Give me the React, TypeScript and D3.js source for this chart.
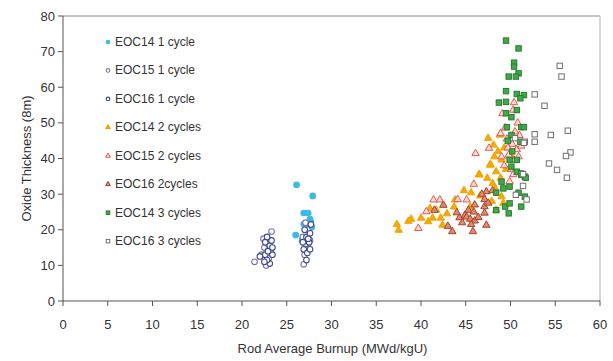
import React from 'react';
import * as d3 from 'd3';

// series data: [burnup, oxide thickness]
const eoc14c1: [number, number][] = [
  [26.1, 32.6], [27.9, 29.5], [26.9, 24.7], [27.4, 24.7], [27.7, 22.2], [26.9, 21.6],
  [27.8, 20.8], [26.0, 18.5], [27.5, 19.9], [26.7, 17.0], [27.6, 23.0], [27.2, 21.0],
];
const eoc15c1: [number, number][] = [
  [21.4, 11.0], [22.2, 13.0], [22.7, 10.0], [23.0, 12.0], [22.5, 15.0], [23.2, 14.0],
  [22.4, 17.5], [23.3, 19.5], [22.9, 16.0], [26.9, 10.3], [27.0, 13.0], [27.4, 15.0],
  [26.8, 18.0], [27.3, 20.0], [27.6, 17.0], [27.1, 22.0],
];
const eoc16c1: [number, number][] = [
  [22.0, 12.5], [22.6, 13.0], [23.1, 10.5], [22.8, 11.5], [23.4, 13.0], [22.9, 14.0],
  [23.1, 15.5], [22.6, 16.5], [23.3, 17.0], [22.8, 18.0], [23.4, 15.0], [22.5, 11.0],
  [27.2, 11.5], [26.9, 14.5], [27.3, 13.5], [27.6, 14.5], [27.1, 16.0], [27.5, 16.5],
  [26.8, 16.5], [27.2, 18.0], [27.6, 19.0], [27.0, 20.0], [27.4, 17.5], [27.7, 21.5],
];
const eoc14c2: [number, number][] = [
  [37.5, 19.9], [37.3, 21.5], [38.6, 22.4], [38.9, 23.0], [40.0, 23.3], [40.8, 22.3],
  [41.3, 23.3], [42.2, 23.3], [42.4, 21.3], [41.7, 25.5], [41.0, 26.0], [43.8, 28.4],
  [43.7, 26.4], [45.5, 26.4], [45.6, 30.4], [46.5, 35.6], [47.4, 34.5], [47.7, 38.2],
  [48.4, 25.5], [49.0, 29.3], [47.5, 45.7], [48.8, 46.6], [46.5, 35.4], [47.8, 38.2],
  [48.4, 36.3], [49.0, 39.6], [48.2, 40.5], [48.6, 42.0], [49.3, 43.0], [48.0, 33.0],
  [48.9, 34.5], [49.5, 37.0], [48.3, 31.5], [49.2, 27.5], [47.9, 28.0], [44.8, 31.0],
  [42.9, 24.5], [46.6, 29.5], [50.0, 41.0], [48.1, 43.8],
];
const eoc15c2: [number, number][] = [
  [46.1, 41.4], [47.6, 42.9], [49.1, 52.6], [50.4, 55.7], [50.3, 53.6], [50.8, 50.0],
  [49.4, 48.6], [41.4, 28.4], [42.1, 28.4], [40.6, 25.1], [39.7, 20.4], [44.1, 28.5],
  [45.1, 28.4], [45.9, 32.8], [49.9, 33.5], [49.6, 45.5], [50.2, 44.0], [50.7, 42.5],
  [49.8, 41.0], [50.4, 39.5], [49.3, 38.0], [50.1, 37.0], [50.9, 40.5], [49.7, 43.0],
  [51.0, 46.5], [48.9, 47.0], [50.5, 47.5], [49.0, 40.5], [51.2, 43.5], [50.3, 35.5],
];
const eoc16c2: [number, number][] = [
  [43.5, 19.5], [45.8, 19.5], [44.3, 23.4], [44.9, 24.1], [45.1, 23.6], [45.5, 23.0],
  [46.0, 22.5], [47.3, 21.3], [47.1, 24.7], [47.1, 26.5], [47.1, 28.5], [47.3, 30.7],
  [42.5, 26.9], [41.5, 25.5], [44.6, 22.0], [45.3, 25.5], [45.9, 25.0], [44.0, 24.8],
  [46.4, 23.5], [45.6, 21.5], [47.5, 27.5], [46.8, 30.0], [48.0, 31.0], [46.0, 27.0],
  [43.0, 21.0],
];
const eoc14c3: [number, number][] = [
  [49.5, 73.1], [50.9, 70.9], [50.4, 66.9], [50.4, 65.8], [50.9, 63.9], [49.8, 63.0],
  [50.6, 63.0], [49.5, 58.9], [50.7, 58.1], [51.5, 57.8], [51.1, 56.9], [48.7, 55.7],
  [49.5, 55.9], [49.5, 52.7], [50.7, 53.6], [50.1, 51.6], [49.6, 48.8], [51.2, 48.8],
  [51.5, 48.8], [50.1, 46.6], [51.1, 44.7], [49.9, 39.6], [50.7, 39.6], [50.1, 37.7],
  [50.7, 36.3], [51.2, 35.4], [51.6, 34.9], [51.2, 35.8], [51.7, 34.6], [49.0, 33.5],
  [49.2, 31.6], [49.9, 32.1], [48.4, 30.4], [50.9, 30.4], [51.6, 29.3], [49.4, 26.5],
  [49.9, 27.4], [49.8, 24.6], [51.2, 26.5], [48.4, 25.5], [50.2, 42.0], [49.7, 45.0],
];
const eoc16c3: [number, number][] = [
  [55.5, 66.0], [55.7, 63.0], [52.7, 58.0], [53.8, 54.8], [52.7, 46.8], [54.5, 46.6],
  [56.4, 47.8], [52.7, 44.7], [51.6, 44.7], [56.7, 41.7], [56.2, 40.7], [54.3, 38.6],
  [55.2, 36.8], [56.3, 34.6], [51.4, 35.6], [51.4, 32.3], [50.5, 45.7], [51.8, 28.5],
  [50.6, 29.8], [51.5, 44.4],
];

const xTicks = [0, 5, 10, 15, 20, 25, 30, 35, 40, 45, 50, 55, 60];
const yTicks = [0, 10, 20, 30, 40, 50, 60, 70, 80];

type Shape = 'circle' | 'triangle' | 'square';
const series: { name: string; data: [number, number][]; shape: Shape; fill: string; stroke: string }[] = [
  { name: 'EOC14 1 cycle', data: eoc14c1, shape: 'circle', fill: '#3cb9e4', stroke: '#3cb9e4' },
  { name: 'EOC15 1 cycle', data: eoc15c1, shape: 'circle', fill: '#ffffff', stroke: '#7a74b6' },
  { name: 'EOC16 1 cycle', data: eoc16c1, shape: 'circle', fill: '#ffffff', stroke: '#3e4a8c' },
  { name: 'EOC14 2 cycles', data: eoc14c2, shape: 'triangle', fill: '#f2aa0a', stroke: '#f0a400' },
  { name: 'EOC15 2 cycles', data: eoc15c2, shape: 'triangle', fill: '#fbe0d8', stroke: '#e8554c' },
  { name: 'EOC16 2cycles', data: eoc16c2, shape: 'triangle', fill: '#df8a6c', stroke: '#a4432c' },
  { name: 'EOC14 3 cycles', data: eoc14c3, shape: 'square', fill: '#3fab47', stroke: '#2b7a33' },
  { name: 'EOC16 3 cycles', data: eoc16c3, shape: 'square', fill: '#ffffff', stroke: '#6f6f6f' },
];

const W = 613;
const H = 361;
const margin = { left: 63, right: 13, top: 16, bottom: 60 };

function Marker({ shape, x, y, fill, stroke, s = 1 }: { shape: Shape; x: number; y: number; fill: string; stroke: string; s?: number }) {
  if (shape === 'circle') {
    return <circle cx={x} cy={y} r={2.8 * s} fill={fill} stroke={stroke} strokeWidth={1.1} />;
  }
  if (shape === 'square') {
    const h = 2.7 * s;
    return <rect x={x - h} y={y - h} width={2 * h} height={2 * h} fill={fill} stroke={stroke} strokeWidth={1} />;
  }
  const path = d3.symbol(d3.symbolTriangle, 24 * s * s)() as string;
  return <path d={path} transform={`translate(${x},${y})`} fill={fill} stroke={stroke} strokeWidth={1} />;
}

export default function App() {
  const x = d3.scaleLinear().domain([0, 60]).range([margin.left, W - margin.right]);
  const y = d3.scaleLinear().domain([0, 80]).range([H - margin.bottom, margin.top]);
  const font = 'Liberation Sans, Arial, sans-serif';
  const x0 = x(0), x1 = x(60), y0 = y(0), y1 = y(80);

  return (
    <svg width={W} height={H} style={{ position: 'absolute', left: 0, top: 0, background: '#fff' }} fontFamily={font}>
      {/* frame */}
      <line x1={x0} x2={x1} y1={y1} y2={y1} stroke="#8a8a8a" strokeWidth={1} />
      <line x1={x1} x2={x1} y1={y1} y2={y0} stroke="#c8c8c8" strokeWidth={1.5} />
      <line x1={x0} x2={x0} y1={y1} y2={y0} stroke="#555" strokeWidth={1} />
      <line x1={x0} x2={x1} y1={y0} y2={y0} stroke="#555" strokeWidth={1} />

      {yTicks.map(t => (
        <g key={'y' + t}>
          <line x1={x0 - 5} x2={x0} y1={y(t)} y2={y(t)} stroke="#555" />
          <text x={x0 - 8} y={y(t) + 4.5} textAnchor="end" fontSize={13} fill="#333">{t}</text>
        </g>
      ))}
      {xTicks.map(t => (
        <g key={'x' + t}>
          <line x1={x(t)} x2={x(t)} y1={y0} y2={y0 + 5} stroke="#555" />
          <text x={x(t)} y={y0 + 28} textAnchor="middle" fontSize={13} fill="#333">{t}</text>
        </g>
      ))}

      <text x={x((0 + 60) / 2) + 1} y={353} textAnchor="middle" fontSize={13} fill="#333">
        Rod Average Burnup (MWd/kgU)
      </text>
      <text transform={`translate(31,${(y0 + y1) / 2}) rotate(-90)`} textAnchor="middle" fontSize={13} fill="#333">
        Oxide Thickness (8m)
      </text>

      {/* points */}
      {series.map(s => (
        <g key={s.name}>
          {s.data.map((d, i) => (
            <Marker key={i} shape={s.shape} x={x(d[0])} y={y(d[1])} fill={s.fill} stroke={s.stroke} />
          ))}
        </g>
      ))}

      {/* legend */}
      {series.map((s, i) => {
        const ly = 42 + i * 28.45;
        return (
          <g key={'lg' + s.name}>
            <Marker shape={s.shape} x={108} y={ly} fill={s.fill} stroke={s.stroke} s={0.65} />
            <text x={115} y={ly + 4} fontSize={12} fill="#333">{s.name}</text>
          </g>
        );
      })}
    </svg>
  );
}
